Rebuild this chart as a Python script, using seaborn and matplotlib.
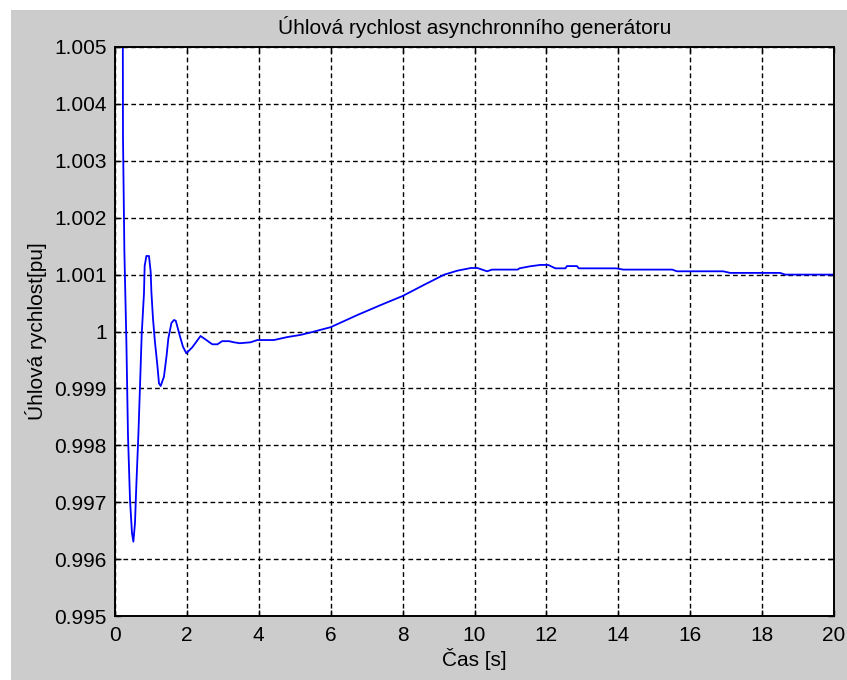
import matplotlib
matplotlib.use("Agg")
import matplotlib.pyplot as plt
from matplotlib.patches import Rectangle
import pandas as pd
import seaborn as sns

# Rotor angular speed of the induction generator after the disturbance
time_s = [
    0.20, 0.222, 0.261, 0.317, 0.361, 0.417, 0.472, 0.511, 0.556, 0.595,
    0.650, 0.695, 0.742, 0.806, 0.825, 0.873, 0.945, 0.992, 1.012, 1.056,
    1.112, 1.178, 1.223, 1.270, 1.362, 1.437, 1.484, 1.57, 1.64, 1.69,
    1.81, 1.89, 1.984, 2.15, 2.38, 2.54, 2.707, 2.85, 2.98, 3.17,
    3.31, 3.47, 3.77, 3.96, 4.42, 4.80, 5.16, 5.44, 6.00, 6.74,
    7.38, 8.00, 8.60, 9.16, 9.53, 9.90, 10.08, 10.35, 10.49, 11.20,
    11.25, 11.55, 11.83, 12.05, 12.25, 12.53, 12.57, 12.85, 12.90, 13.94,
    14.14, 15.50, 15.63, 16.92, 17.11, 18.50, 18.64, 20.00,
]
omega_pu = [
    1.0120, 1.003424, 1.001402, 0.999810, 0.998181, 0.997051, 0.996459, 0.996306, 0.996634, 0.997320,
    0.998181, 0.999030, 0.999938, 1.000671, 1.001151, 1.001327, 1.001327, 1.001051, 1.000700, 1.000232,
    0.999810, 0.999411, 0.999090, 0.999042, 0.999206, 0.999587, 0.999880, 1.000150, 1.000202, 1.000190,
    0.999909, 0.999733, 0.999617, 0.999722, 0.999921, 0.999850, 0.999775, 0.999775, 0.999830, 0.999830,
    0.999810, 0.999794, 0.999810, 0.999850, 0.999850, 0.999903, 0.999940, 0.999983, 1.000076, 1.000289,
    1.000462, 1.000624, 1.000821, 1.001000, 1.001070, 1.001116, 1.001116, 1.001058, 1.001088, 1.001088,
    1.001110, 1.001146, 1.001170, 1.001170, 1.001110, 1.001110, 1.001150, 1.001150, 1.001110, 1.001110,
    1.001088, 1.001088, 1.001058, 1.001058, 1.001030, 1.001030, 1.001000, 1.001000,
]

x_ticks = [0, 2, 4, 6, 8, 10, 12, 14, 16, 18, 20]
y_ticks = [0.995, 0.996, 0.997, 0.998, 0.999, 1.000, 1.001, 1.002, 1.003, 1.004, 1.005]
y_tick_labels = ["0.995", "0.996", "0.997", "0.998", "0.999", "1",
                 "1.001", "1.002", "1.003", "1.004", "1.005"]

df = pd.DataFrame({"t": time_s, "w": omega_pu})

sns.set_theme(style="ticks")
plt.rcParams["font.family"] = ["Liberation Sans", "DejaVu Sans"]
plt.rcParams["text.color"] = "black"
plt.rcParams["axes.labelcolor"] = "black"

fig = plt.figure(figsize=(8.47, 6.80), dpi=100, facecolor="white")
# grey window panel
fig.patches.append(Rectangle((11 / 847, 0), 1, 1 - 10 / 680,
                             transform=fig.transFigure, facecolor="#cccccc",
                             edgecolor="none", zorder=-10))

ax = fig.add_axes([115 / 847, 1 - 616 / 680, (834 - 115) / 847, (616 - 47) / 680])
ax.set_facecolor("white")

sns.lineplot(data=df, x="t", y="w", ax=ax, estimator=None, sort=False,
             color="#0000ff", linewidth=1.3)

ax.set_xlim(0, 20)
ax.set_ylim(0.995, 1.005)
ax.set_xticks(x_ticks)
ax.set_xticklabels([str(v) for v in x_ticks])
ax.set_yticks(y_ticks)
ax.set_yticklabels(y_tick_labels)

ax.grid(True, color="black", linestyle=(0, (3.4, 2.3)), linewidth=1.0)
for side in ["top", "right", "bottom", "left"]:
    ax.spines[side].set_visible(True)
    ax.spines[side].set_color("black")
    ax.spines[side].set_linewidth(1.4)
    ax.spines[side].set_zorder(5)

ax.tick_params(axis="both", direction="in", length=4, width=1.0, color="black",
               labelsize=15, labelcolor="black", top=True, right=True)
ax.tick_params(axis="y", pad=6)
ax.tick_params(axis="x", pad=7)

ax.set_title("Úhlová rychlost asynchronního generátoru", fontsize=15, pad=9)
ax.set_xlabel("Čas [s]", fontsize=15, labelpad=2)
ax.set_ylabel("Úhlová rychlost[pu]", fontsize=15, labelpad=5)

fig.savefig("out.png", dpi=100, facecolor=fig.get_facecolor())
